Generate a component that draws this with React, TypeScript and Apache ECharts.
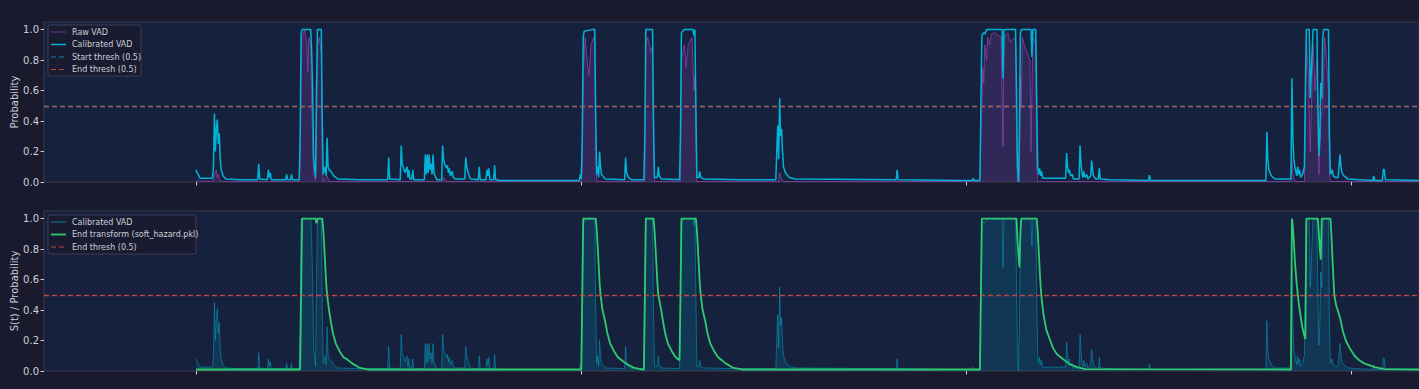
import React, { useEffect, useRef } from "react";
import * as echarts from "echarts";

// x unit: frames (10 ms hop). Ticks every 400 frames, no tick labels shown.
const X_MIN = -158;
const X_MAX = 1270;
const X_TICKS = [0, 400, 800, 1200];
const Y_TICKS = [0, 0.2, 0.4, 0.6, 0.8, 1.0];
const Y_MAX = 1.05;
const START_THRESH = 0.5;
const END_THRESH = 0.5;

const CALIBRATED: [number, number][] = [
  [0, 0.08], [1, 0.06], [2, 0.05], [3, 0.04], [4, 0.025], [17, 0.025], [18, 0.1], [19, 0.45], [20, 0.2],
  [21, 0.35], [22, 0.41], [23, 0.25], [24, 0.32], [25, 0.15], [26, 0.08], [28, 0.04], [31, 0.02], [46, 0.015],
  [64, 0.015], [65, 0.12], [66, 0.02], [74, 0.015], [75, 0.08], [76, 0.03], [77, 0.06], [78, 0.015],
  [93, 0.015], [94, 0.05], [95, 0.015], [98, 0.015], [99, 0.05], [100, 0.015], [107, 0.015], [108, 0.3],
  [109, 0.97], [110, 1.0], [119, 1.0], [120, 0.85], [121, 0.6], [122, 0.15], [124, 0.03], [125, 0.6],
  [126, 1.0], [130, 1.0], [131, 0.4], [132, 0.05], [134, 0.1], [135, 0.04], [136, 0.29], [137, 0.1],
  [138, 0.08], [140, 0.07], [143, 0.04], [147, 0.02], [170, 0.015], [199, 0.015], [200, 0.16], [201, 0.02],
  [212, 0.015], [213, 0.24], [214, 0.12], [215, 0.1], [217, 0.06], [219, 0.1], [220, 0.03], [221, 0.08],
  [222, 0.02], [224, 0.02], [225, 0.08], [226, 0.015], [237, 0.015], [238, 0.18], [239, 0.05], [240, 0.18],
  [241, 0.06], [242, 0.18], [243, 0.08], [244, 0.12], [245, 0.05], [246, 0.18], [247, 0.06], [249, 0.03],
  [250, 0.015], [255, 0.015], [256, 0.24], [257, 0.15], [258, 0.12], [260, 0.09], [261, 0.11], [262, 0.06],
  [263, 0.09], [264, 0.04], [266, 0.07], [267, 0.03], [269, 0.02], [279, 0.02], [280, 0.16], [281, 0.1],
  [283, 0.05], [285, 0.02], [293, 0.015], [294, 0.1], [295, 0.015], [301, 0.015], [302, 0.08], [303, 0.04],
  [304, 0.09], [305, 0.015], [309, 0.015], [310, 0.11], [311, 0.015], [316, 0.01], [398, 0.01], [399, 0.05],
  [400, 0.02], [401, 0.3], [402, 0.95], [403, 0.99], [411, 1.0], [414, 1.0], [415, 0.4], [416, 0.05],
  [417, 0.1], [418, 0.03], [419, 0.2], [420, 0.1], [421, 0.05], [425, 0.02], [445, 0.015], [446, 0.16],
  [447, 0.06], [449, 0.03], [452, 0.015], [465, 0.015], [466, 0.3], [467, 1.0], [474, 1.0], [475, 0.4],
  [476, 0.03], [479, 0.03], [480, 0.1], [481, 0.04], [483, 0.02], [502, 0.015], [503, 0.3], [504, 0.98],
  [507, 1.0], [516, 1.0], [517, 0.96], [518, 1.0], [519, 0.5], [520, 0.03], [522, 0.03], [523, 0.07],
  [524, 0.03], [527, 0.02], [565, 0.015], [602, 0.015], [603, 0.2], [604, 0.37], [605, 0.15], [606, 0.55],
  [607, 0.3], [608, 0.35], [609, 0.2], [610, 0.1], [612, 0.06], [616, 0.03], [622, 0.02], [727, 0.015],
  [728, 0.08], [729, 0.015], [793, 0.01], [806, 0.01], [807, 0.025], [808, 0.01], [814, 0.01], [815, 0.5],
  [816, 0.96], [818, 0.98], [819, 0.97], [821, 1.0], [837, 1.0], [838, 0.68], [839, 1.0], [851, 1.0],
  [852, 0.6], [853, 0.1], [854, 0.0], [855, 0.3], [856, 0.98], [857, 1.0], [867, 1.0], [868, 0.82],
  [869, 1.0], [872, 1.0], [873, 0.5], [874, 0.1], [875, 0.05], [876, 0.09], [877, 0.04], [878, 0.07],
  [879, 0.03], [881, 0.025], [903, 0.025], [904, 0.19], [905, 0.1], [906, 0.06], [907, 0.08], [908, 0.04],
  [910, 0.05], [911, 0.02], [917, 0.02], [918, 0.24], [919, 0.12], [920, 0.05], [921, 0.03], [922, 0.07],
  [923, 0.03], [925, 0.05], [926, 0.02], [929, 0.04], [930, 0.14], [931, 0.08], [932, 0.04], [934, 0.02],
  [937, 0.02], [938, 0.09], [939, 0.02], [949, 0.015], [989, 0.01], [990, 0.045], [991, 0.01], [1111, 0.01],
  [1112, 0.33], [1113, 0.15], [1114, 0.08], [1116, 0.05], [1118, 0.03], [1121, 0.02], [1137, 0.02],
  [1138, 0.68], [1139, 0.3], [1140, 0.15], [1141, 0.1], [1143, 0.04], [1144, 0.1], [1145, 0.05], [1146, 0.08],
  [1147, 0.03], [1149, 0.05], [1151, 0.1], [1152, 0.6], [1153, 1.0], [1156, 1.0], [1157, 0.55], [1158, 0.7],
  [1160, 1.0], [1164, 1.0], [1165, 0.5], [1166, 0.17], [1167, 0.3], [1168, 0.65], [1169, 0.55], [1170, 0.95],
  [1171, 1.0], [1176, 1.0], [1177, 0.3], [1178, 0.05], [1180, 0.08], [1181, 0.04], [1183, 0.03], [1186, 0.03],
  [1188, 0.18], [1189, 0.1], [1190, 0.06], [1192, 0.04], [1196, 0.02], [1208, 0.015], [1222, 0.01],
  [1223, 0.04], [1224, 0.01], [1232, 0.01], [1233, 0.085], [1234, 0.08], [1235, 0.015], [1270, 0.01],
];

const RAW: [number, number][] = [
  [0, 0.01], [4, 0.005], [18, 0.005], [19, 0.05], [21, 0.08], [22, 0.03], [23, 0.05], [25, 0.01], [27, 0.003],
  [107, 0.003], [108, 0.1], [109, 0.6], [110, 0.95], [113, 1.0], [115, 0.9], [116, 0.72], [117, 0.95],
  [119, 0.9], [120, 0.5], [121, 0.3], [122, 0.05], [124, 0.01], [125, 0.3], [126, 0.9], [128, 0.95],
  [130, 0.85], [131, 0.1], [132, 0.003], [136, 0.04], [138, 0.003], [256, 0.003], [257, 0.03], [260, 0.003],
  [400, 0.003], [401, 0.1], [402, 0.7], [404, 0.95], [406, 0.8], [408, 0.7], [410, 0.9], [413, 0.95],
  [414, 0.9], [415, 0.2], [416, 0.003], [466, 0.003], [467, 0.9], [469, 0.95], [472, 0.85], [474, 0.9],
  [475, 0.2], [476, 0.003], [503, 0.003], [504, 0.8], [507, 0.9], [509, 0.75], [511, 0.9], [515, 0.95],
  [517, 0.6], [518, 0.7], [519, 0.3], [520, 0.003], [605, 0.003], [606, 0.06], [608, 0.02], [610, 0.003],
  [814, 0.003], [815, 0.3], [816, 0.5], [817, 0.75], [818, 0.65], [819, 0.9], [821, 0.8], [822, 0.95],
  [824, 0.9], [826, 0.97], [829, 0.98], [836, 0.95], [838, 0.23], [839, 0.95], [843, 0.98], [845, 0.92],
  [851, 0.95], [852, 0.3], [853, 0.003], [855, 0.003], [856, 0.7], [857, 0.5], [858, 0.95], [860, 0.9],
  [866, 0.8], [867, 0.2], [869, 0.95], [872, 0.9], [873, 0.1], [874, 0.003], [1137, 0.003], [1138, 0.15],
  [1139, 0.05], [1141, 0.003], [1151, 0.003], [1152, 0.4], [1153, 0.95], [1155, 0.7], [1157, 0.2],
  [1160, 0.9], [1162, 0.6], [1164, 0.8], [1166, 0.05], [1168, 0.4], [1170, 0.5], [1172, 0.95], [1174, 0.8],
  [1176, 0.6], [1177, 0.05], [1178, 0.003], [1270, 0.003],
];

const END_TRANSFORM: [number, number][] = [
  [0, 0.01], [108, 0.01], [109, 0.5], [110, 1.0], [124, 1.0], [125, 0.97], [126, 1.0], [131, 1.0],
  [132, 0.93], [133, 0.82], [134, 0.7], [135, 0.58], [136, 0.5], [138, 0.4], [140, 0.32], [142, 0.25],
  [145, 0.18], [149, 0.13], [153, 0.09], [157, 0.075], [162, 0.05], [170, 0.02], [178, 0.01],
  [400, 0.01], [401, 0.5], [402, 1.0], [415, 1.0], [416, 0.93], [417, 0.82], [418, 0.7], [419, 0.58],
  [420, 0.5], [422, 0.4], [425, 0.32], [427, 0.25], [430, 0.18], [434, 0.13], [438, 0.09], [441, 0.075],
  [446, 0.05], [455, 0.02], [463, 0.01], [465, 0.01], [466, 0.5], [467, 1.0], [475, 1.0], [476, 0.93],
  [477, 0.82], [478, 0.7], [479, 0.58], [480, 0.5], [483, 0.4], [485, 0.32], [487, 0.25], [490, 0.18],
  [494, 0.13], [498, 0.09], [501, 0.075], [502, 0.07], [503, 0.5], [504, 1.0], [519, 1.0], [520, 0.93],
  [521, 0.82], [522, 0.7], [523, 0.58], [524, 0.5], [526, 0.4], [529, 0.32], [531, 0.25], [534, 0.18],
  [538, 0.13], [542, 0.09], [545, 0.075], [550, 0.05], [558, 0.02], [567, 0.01], [814, 0.01], [815, 0.5],
  [816, 1.0], [852, 1.0], [853, 0.85], [855, 0.68], [856, 0.9], [857, 1.0], [873, 1.0], [874, 0.92],
  [875, 0.8], [876, 0.67], [877, 0.56], [878, 0.48], [880, 0.37], [883, 0.27], [887, 0.2], [890, 0.15],
  [894, 0.11], [898, 0.09], [903, 0.065], [907, 0.045], [915, 0.025], [923, 0.012], [1137, 0.01],
  [1138, 1.0], [1139, 0.95], [1140, 0.85], [1141, 0.73], [1143, 0.57], [1145, 0.45], [1147, 0.36],
  [1149, 0.28], [1151, 0.23], [1152, 0.21], [1153, 1.0], [1165, 1.0], [1167, 0.8], [1168, 0.73],
  [1169, 1.0], [1178, 1.0], [1179, 0.9], [1180, 0.75], [1182, 0.5], [1184, 0.43], [1188, 0.35],
  [1191, 0.26], [1194, 0.2], [1198, 0.15], [1203, 0.1], [1208, 0.07], [1213, 0.05], [1224, 0.025],
  [1234, 0.012], [1270, 0.01],
];

const TOP_LEGEND = ["Raw VAD", "Calibrated VAD", "Start thresh (0.5)", "End thresh (0.5)"];
const BOTTOM_LEGEND = ["Calibrated VAD", "End transform (soft_hazard.pkl)", "End thresh (0.5)"];

const FIG_BG = "#1a1a2e";
const AX_BG = "#16213e";
const SPINE = "#3b3b4f";
const TEXT = "#cfcfd6";
const PURPLE = "#8e44ad";
const CYAN = "#00b4d8";
const GREEN = "#2ecc71";
const RED = "#e74c3c";
const FONT = "DejaVu Sans, Verdana, sans-serif";

function legendGroup(
  x: number,
  y: number,
  w: number,
  h: number,
  labels: string[],
  styles: { color: string; opacity: number; width: number; dash?: number[] }[]
) {
  const children: any[] = [
    {
      type: "rect",
      shape: { x: 0, y: 0, width: w, height: h, r: 2 },
      style: { fill: FIG_BG, opacity: 0.85, stroke: "#45455a", lineWidth: 1 },
    },
  ];
  labels.forEach((lab, i) => {
    const cy = 7 + i * 12.5;
    const s = styles[i];
    children.push({
      type: "line",
      shape: { x1: 3, y1: cy, x2: 18, y2: cy },
      style: { stroke: s.color, opacity: s.opacity, lineWidth: s.width, lineDash: s.dash || null },
    });
    children.push({
      type: "text",
      x: 24,
      y: cy,
      style: { text: lab, fill: TEXT, font: `8px ${FONT}`, verticalAlign: "middle", align: "left" },
    });
  });
  return { type: "group", x, y, children, z: 100 };
}

export default function App() {
  const ref = useRef<HTMLDivElement>(null);
  useEffect(() => {
    if (!ref.current) return;
    const chart = echarts.init(ref.current, undefined, { renderer: "svg" });
    const xAxis = [0, 1].map((i) => ({
      type: "value",
      gridIndex: i,
      min: X_MIN,
      max: X_MAX,
      axisLine: { show: false, onZero: false },
      axisTick: { show: true, customValues: X_TICKS, length: 3.5, lineStyle: { color: TEXT, width: 1 } },
      axisLabel: { show: false },
      splitLine: { show: false },
    }));
    const yAxis = [0, 1].map((i) => ({
      type: "value",
      gridIndex: i,
      min: 0,
      max: Y_MAX,
      name: i === 0 ? "Probability" : "S(t) / Probability",
      nameLocation: "middle",
      nameGap: 25,
      nameMoveOverlap: false,
      nameTextStyle: { color: TEXT, fontSize: 10, fontFamily: FONT },
      axisLine: { show: false, onZero: false },
      axisTick: { show: true, customValues: Y_TICKS, length: 3.5, lineStyle: { color: TEXT, width: 1 } },
      axisLabel: {
        show: true,
        customValues: Y_TICKS,
        color: TEXT,
        fontSize: 10,
        fontFamily: FONT,
        margin: 5,
        formatter: (v: number) => v.toFixed(1),
      },
      splitLine: { show: false },
    }));
    const thresh = (val: number, color: string, opacity: number) => ({
      silent: true,
      symbol: ["none", "none"],
      label: { show: false },
      lineStyle: { type: [5, 3], color, width: 1.3, opacity },
      data: [{ yAxis: val }],
    });
    const gridBase = {
      left: 44,
      right: 0,
      height: 160,
      show: true,
      backgroundColor: AX_BG,
      borderColor: SPINE,
      borderWidth: 1,
      containLabel: false,
      outerBoundsMode: "none",
    };
    chart.setOption({
      animation: false,
      backgroundColor: FIG_BG,
      textStyle: { fontFamily: FONT },
      grid: [
        { ...gridBase, top: 22 },
        { ...gridBase, top: 211 },
      ],
      xAxis,
      yAxis,
      series: [
        {
          name: "Raw VAD",
          type: "line",
          xAxisIndex: 0,
          yAxisIndex: 0,
          data: RAW,
          symbol: "none",
          lineStyle: { color: PURPLE, width: 1, opacity: 0.75 },
          areaStyle: { color: PURPLE, opacity: 0.22 },
          z: 2,
        },
        {
          name: "Calibrated VAD",
          type: "line",
          xAxisIndex: 0,
          yAxisIndex: 0,
          data: CALIBRATED,
          symbol: "none",
          lineStyle: { color: CYAN, width: 1.5 },
          z: 3,
        },
        {
          name: "Start thresh",
          type: "line",
          xAxisIndex: 0,
          yAxisIndex: 0,
          data: [],
          markLine: thresh(START_THRESH, CYAN, 0.7),
          z: 4,
        },
        {
          name: "End thresh",
          type: "line",
          xAxisIndex: 0,
          yAxisIndex: 0,
          data: [],
          markLine: thresh(END_THRESH, RED, 0.7),
          z: 5,
        },
        {
          name: "Calibrated VAD (b)",
          type: "line",
          xAxisIndex: 1,
          yAxisIndex: 1,
          data: CALIBRATED,
          symbol: "none",
          lineStyle: { color: CYAN, width: 1, opacity: 0.45 },
          areaStyle: { color: CYAN, opacity: 0.15 },
          z: 2,
        },
        {
          name: "End transform",
          type: "line",
          xAxisIndex: 1,
          yAxisIndex: 1,
          data: END_TRANSFORM,
          symbol: "none",
          lineStyle: { color: GREEN, width: 1.8 },
          z: 3,
        },
        {
          name: "End thresh (b)",
          type: "line",
          xAxisIndex: 1,
          yAxisIndex: 1,
          data: [],
          markLine: thresh(END_THRESH, RED, 0.8),
          z: 4,
        },
      ],
      graphic: [
        legendGroup(48, 25, 93, 51, TOP_LEGEND, [
          { color: PURPLE, opacity: 0.75, width: 1 },
          { color: CYAN, opacity: 1, width: 1.5 },
          { color: CYAN, opacity: 0.7, width: 1.2, dash: [5, 3] },
          { color: RED, opacity: 0.8, width: 1.2, dash: [5, 3] },
        ]),
        legendGroup(48, 215, 148, 39, BOTTOM_LEGEND, [
          { color: CYAN, opacity: 0.45, width: 1.5 },
          { color: GREEN, opacity: 1, width: 1.8 },
          { color: RED, opacity: 0.8, width: 1.2, dash: [5, 3] },
        ]),
      ],
    });
    return () => chart.dispose();
  }, []);
  return (
    <div
      ref={ref}
      style={{ position: "fixed", left: 0, top: 0, width: 1419, height: 389, background: FIG_BG }}
    />
  );
}
